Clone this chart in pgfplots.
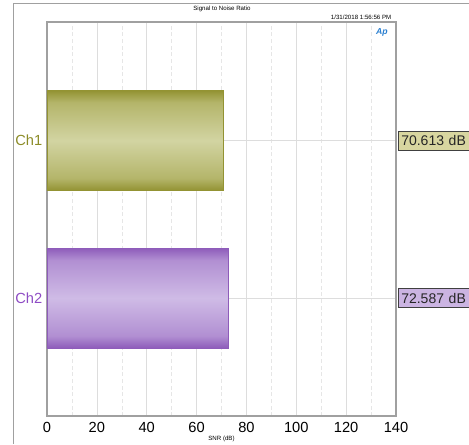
\documentclass[border=0pt]{standalone}
\usepackage{fontspec}
\setmainfont{Liberation Sans}
\usepackage{pgfplots}
\pgfplotsset{compat=1.18}
\usepackage{pgfplotstable}

\definecolor{olivedark}{HTML}{939333}
\definecolor{olivemid}{HTML}{B4B56A}
\definecolor{olivelight}{HTML}{D2D4A2}
\definecolor{olivetext}{HTML}{8C8C28}
\definecolor{olivebox}{HTML}{D8D6A0}
\definecolor{purpledark}{HTML}{8E5CBA}
\definecolor{purplemid}{HTML}{B18FD2}
\definecolor{purplelight}{HTML}{CFBBE6}
\definecolor{purpletext}{HTML}{8E4CC4}
\definecolor{purplebox}{HTML}{CBB4E2}
\definecolor{framegray}{HTML}{A0A0A0}
\definecolor{gridgray}{HTML}{DDDDDD}
\definecolor{minorgray}{HTML}{E6E6E6}
\definecolor{apblue}{HTML}{2A7FD0}

% bar fills: dark rim, lighter band in the middle
\pgfdeclareverticalshading{oliveband}{100bp}{color(0bp)=(olivedark); color(25bp)=(olivedark);
  color(31bp)=(olivemid); color(50bp)=(olivelight); color(69bp)=(olivemid);
  color(75bp)=(olivedark); color(100bp)=(olivedark)}
\pgfdeclareverticalshading{purpleband}{100bp}{color(0bp)=(purpledark); color(25bp)=(purpledark);
  color(31bp)=(purplemid); color(50bp)=(purplelight); color(69bp)=(purplemid);
  color(75bp)=(purpledark); color(100bp)=(purpledark)}

\tikzset{
  value label/.style={anchor=west, xshift=1.5pt, draw=black!75, line width=0.5pt,
    inner xsep=2.2pt, inner ysep=0pt, minimum height=14.25pt, text width=90pt,
    align=left, text=black!85, font=\fontsize{10.5}{12}\selectfont},
  olive shade/.style={shade, shading=oliveband, draw=none},
  purple shade/.style={shade, shading=purpleband, draw=none},
}

% SNR per channel (dB); pos = row on the category axis
\pgfplotstableread{
pos snr
1 70.613
}\chone
\pgfplotstableread{
pos snr
0 72.587
}\chtwo

\begin{document}
\begin{tikzpicture}[x=0.75pt,y=0.75pt]
\useasboundingbox (0,0) rectangle (469,444);
% page frame
\draw[framegray, line width=0.9pt] (13.5,0) -- (13.5,440.3) -- (469,440.3);
\node[font=\fontsize{4.6}{5}\selectfont] at (222,435) {Signal to Noise Ratio};
\node[anchor=east, font=\fontsize{4.6}{5}\selectfont] at (396,427) {1/31/2018 1:56:56 PM};
\node[font=\fontsize{6.5}{7}\selectfont\bfseries\itshape, text=apblue] at (382,412) {Ap};
\begin{axis}[
  at={(35.25pt,109.5pt)}, anchor=origin,
  scale only axis, width=261.75pt, height=295.5pt,
  xmin=0, xmax=140, ymin=-0.75, ymax=1.75,
  xtick={0,20,...,140}, minor xtick={10,30,...,130},
  ytick={0,1},
  yticklabels={{\textcolor{purpletext}{Ch2}},{\textcolor{olivetext}{Ch1}}},
  xmajorgrids, xminorgrids, ymajorgrids,
  major grid style={gridgray, line width=0.5pt},
  minor grid style={minorgray, densely dashed, line width=0.4pt},
  major tick length=0pt, minor tick length=0pt,
  axis line style={framegray, line width=1.1pt},
  xticklabel style={font=\fontsize{11}{12}\selectfont, yshift=-1pt},
  yticklabel style={font=\fontsize{11}{12}\selectfont},
  /pgf/number format/assume math mode=true,
  xlabel={SNR (dB)},
  xlabel style={font=\fontsize{4.6}{5}\selectfont, yshift=4pt},
]
\addplot[xbar, bar shift=0pt, bar width=0.633, draw=olivedark, line width=0.5pt,
  fill=none, preaction={olive shade}]
  table[x=snr, y=pos] {\chone};
\addplot[xbar, bar shift=0pt, bar width=0.633, draw=purpledark, line width=0.5pt,
  fill=none, preaction={purple shade}]
  table[x=snr, y=pos] {\chtwo};
% readouts at the right edge of the plot
\addplot[draw=none, forget plot, point meta=explicit symbolic,
  nodes near coords={\pgfplotspointmeta\ dB},
  nodes near coords style={value label, fill=olivebox}]
  table[x expr=140, y=pos, meta=snr] {\chone};
\addplot[draw=none, forget plot, point meta=explicit symbolic,
  nodes near coords={\pgfplotspointmeta\ dB},
  nodes near coords style={value label, fill=purplebox}]
  table[x expr=140, y=pos, meta=snr] {\chtwo};
\end{axis}
\end{tikzpicture}
\end{document}
